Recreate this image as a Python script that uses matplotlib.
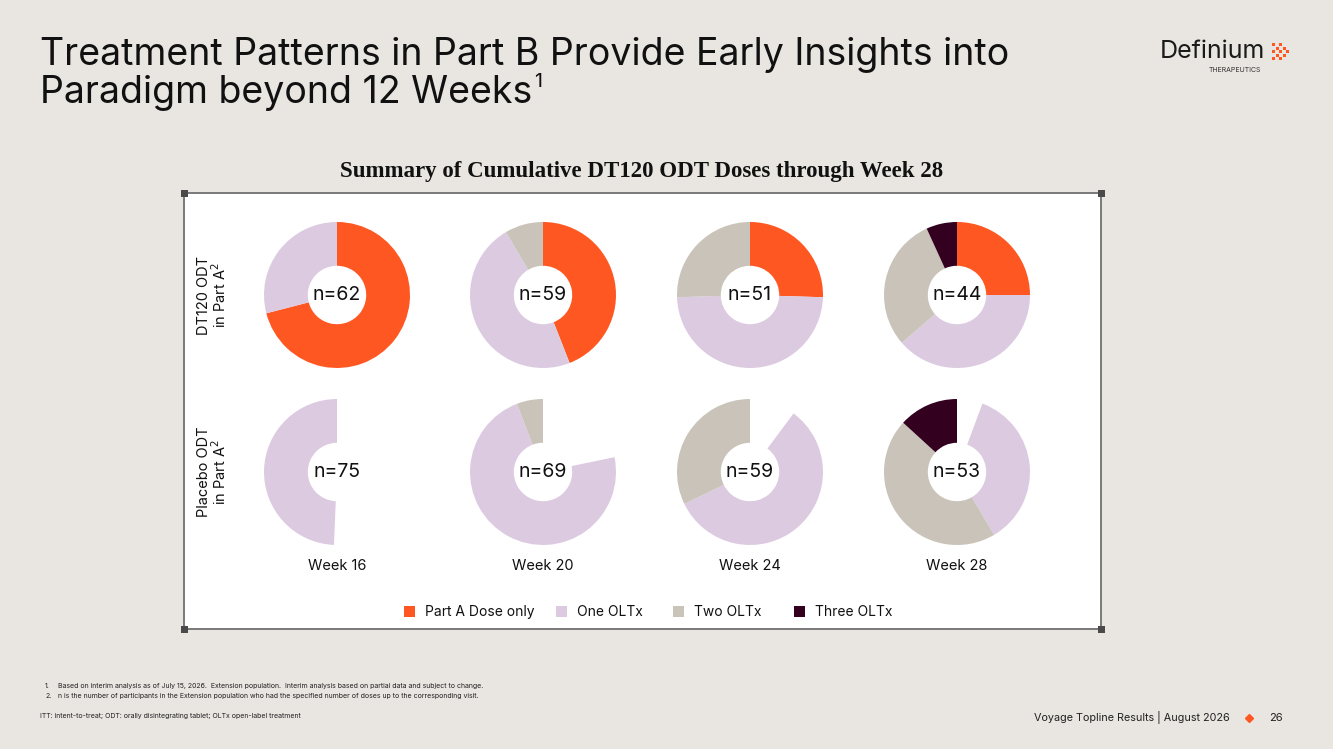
import numpy as np
import matplotlib.pyplot as plt
from matplotlib.patches import Rectangle

# Data
weeks = ['Week 16', 'Week 20', 'Week 24', 'Week 28']
categories = ['Part A Dose only', 'One OLTx', 'Two OLTx', 'Three OLTx']

dt120_n = [62, 59, 51, 44]
dt120_part_a = [44, 26, 13, 11]
dt120_one = [18, 28, 25, 17]
dt120_two = [0, 5, 13, 13]
dt120_three = [0, 0, 0, 3]

placebo_n = [75, 69, 59, 53]
placebo_part_a = [38, 15, 6, 3]
placebo_one = [37, 50, 34, 19]
placebo_two = [0, 4, 19, 24]
placebo_three = [0, 0, 0, 7]

row_labels = ['DT120 ODT\nin Part A$^2$', 'Placebo ODT\nin Part A$^2$']

# Colours
bg = '#E9E6E1'
orange = '#FF5722'
lavender = '#DCCBE0'
greige = '#C9C3BA'
plum = '#33001F'
cat_colors = [orange, lavender, greige, plum]

W, H = 1333, 749
plt.rcParams['font.family'] = ['Inter', 'DejaVu Sans']

fig = plt.figure(figsize=(W / 100, H / 100), dpi=100)
fig.patch.set_facecolor(bg)

# pixel-space canvas
ax = fig.add_axes([0, 0, 1, 1])
ax.set_xlim(0, W)
ax.set_ylim(H, 0)
ax.axis('off')

# Title
ax.text(40, 37, 'Treatment Patterns in Part B Provide Early Insights into',
        fontsize=27, va='top', ha='left', color='#111111')
t2 = ax.text(40, 75, 'Paradigm beyond 12 Weeks',
             fontsize=27, va='top', ha='left', color='#111111')
fig.canvas.draw()
bb = t2.get_window_extent()
ax.text(bb.x1 + 2, 73, '1', fontsize=14, va='top', ha='left', color='#111111')

# Logo
ax.text(1265, 52, 'Definium', fontsize=18, ha='right', va='center', color='#1a1a1a')
ax.text(1235, 70, 'THERAPEUTICS', fontsize=5, ha='center', va='center', color='#333333')
logo_cells = [(0, 0), (2, 0), (1, 1), (3, 1), (0, 2), (2, 2), (4, 2), (1, 3), (3, 3), (0, 4), (2, 4)]
for cx, cy in logo_cells:
    ax.add_patch(Rectangle((1272 + cx * 3.6, 43 + cy * 3.6), 3.0, 3.0, color=orange, lw=0))

# Chart subtitle
ax.text(642, 171, 'Summary of Cumulative DT120 ODT Doses through Week 28', fontsize=16.5,
        ha='center', va='center', family='Liberation Serif', weight='bold', color='#111111')

# Panel
px0, py0, px1, py1 = 184, 193, 1101, 629
ax.add_patch(Rectangle((px0, py0), px1 - px0, py1 - py0, facecolor='white',
                       edgecolor='#707070', lw=1.3))
for cx, cy in [(px0, py0), (px1, py0), (px0, py1), (px1, py1)]:
    ax.add_patch(Rectangle((cx - 3.5, cy - 3.5), 7, 7, color='#4a4a4a', lw=0, zorder=5))

# Donuts
centers_x = [337, 543, 750, 957]
centers_y = [295, 472]
r_out = 73
hole = 0.6

rows = [
    (dt120_n, [dt120_part_a, dt120_one, dt120_two, dt120_three], cat_colors),
    (placebo_n, [placebo_part_a, placebo_one, placebo_two, placebo_three],
     ['white', lavender, greige, plum]),
]

for ri, (ns, series, cols) in enumerate(rows):
    for wi in range(len(weeks)):
        vals = [s[wi] for s in series]
        cx, cy = centers_x[wi], centers_y[ri]
        pax = fig.add_axes([(cx - r_out) / W, 1 - (cy + r_out) / H, 2 * r_out / W, 2 * r_out / H])
        pax.pie(vals, colors=cols, startangle=90, counterclock=False,
                wedgeprops=dict(width=hole, linewidth=0))
        pax.set_xlim(-1, 1)
        pax.set_ylim(-1, 1)
        pax.text(0, 0, 'n=%d' % ns[wi], ha='center', va='center', fontsize=14, color='#111111')

# Row labels
for ri, lab in enumerate(row_labels):
    ax.text(213, centers_y[ri], lab, rotation=90, ha='center', va='center',
            fontsize=10.5, color='#111111', linespacing=1.0)

# Week labels
for wi, wk in enumerate(weeks):
    ax.text(centers_x[wi], 566, wk, ha='center', va='center', fontsize=10.5, color='#111111')

# Legend
leg_x = [404, 556, 673, 794]
for cat, col, lx in zip(categories, cat_colors, leg_x):
    ax.add_patch(Rectangle((lx, 606), 11, 11, color=col, lw=0))
    ax.text(lx + 21, 612, cat, ha='left', va='center', fontsize=10, color='#111111')

# Footnotes
fn = dict(fontsize=5.0, va='center', color='#222222')
ax.text(45, 686, '1.', **fn)
ax.text(58, 686, 'Based on interim analysis as of July 15, 2026.  Extension population.  '
        'Interim analysis based on partial data and subject to change.', **fn)
ax.text(45, 696, '2.', **fn)
ax.text(58, 696, 'n is the number of participants in the Extension population who had the '
        'specified number of doses up to the corresponding visit.', **fn)
ax.text(40, 716, 'ITT: intent-to-treat; ODT: orally disintegrating tablet; OLTx open-label treatment', **fn)

# Footer
ax.text(1230, 718, 'Voyage Topline Results | August 2026', fontsize=7.8, ha='right',
        va='center', color='#222222')
ax.plot([1249], [718], marker='D', color=orange, markersize=4.5)
ax.text(1276, 718, '26', fontsize=8, ha='center', va='center', color='#222222')

fig.savefig('out.png', dpi=100, facecolor=bg)
